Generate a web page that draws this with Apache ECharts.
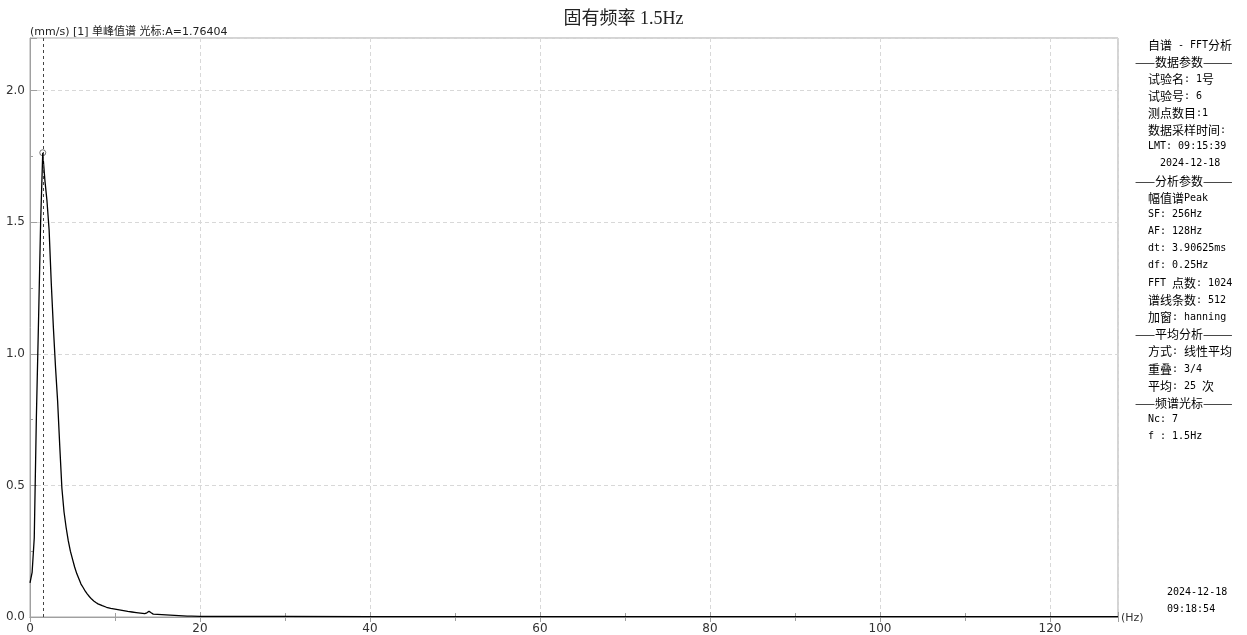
<!DOCTYPE html>
<html><head><meta charset="utf-8">
<script src="https://cdn.jsdelivr.net/npm/echarts@6/dist/echarts.min.js"></script>
<style>html,body{margin:0;padding:0;background:#fff}#c{width:1247px;height:635px}</style>
</head><body><div id="c"></div>
<script>
const titleText = '固有频率 1.5Hz';
const headerText = '(mm/s) [1] 单峰值谱 光标:A=1.76404';
const unitX = '(Hz)';
const freqs = [0,0.25,0.5,0.75,1,1.25,1.5,1.75,2,2.25,2.5,2.75,3,3.25,3.5,3.75,4,4.25,4.5,4.75,5,5.25,5.5,5.75,6,6.25,6.5,6.75,7,7.25,7.5,7.75,8,8.5,9,9.5,10,10.5,11,11.5,12,12.5,13,13.5,13.75,14,14.25,14.5,15,15.5,16,16.5,17,17.5,18,18.5,19,20,25,30,40,50,60,70,80,90,100,110,120,128];
const amps  = [0.13,0.17,0.30,0.76,1.12,1.50,1.76404,1.66,1.58,1.47,1.27,1.10,0.95,0.82,0.65,0.49,0.40,0.34,0.29,0.25,0.22,0.19,0.165,0.145,0.125,0.112,0.098,0.087,0.077,0.068,0.061,0.055,0.050,0.043,0.037,0.033,0.030,0.027,0.024,0.021,0.019,0.017,0.015,0.013,0.016,0.022,0.016,0.011,0.010,0.009,0.008,0.007,0.006,0.005,0.004,0.003,0.003,0.002,0.002,0.002,0.0018,0.0018,0.0017,0.0017,0.0016,0.0016,0.0015,0.0015,0.0015,0.0015];
const cursorFreq = 1.5;
const cursorAmp = 1.76404;
const panelLines = ['自谱 - FFT分析','——数据参数———','试验名: 1号','试验号: 6','测点数目:1','数据采样时间:','LMT: 09:15:39','  2024-12-18','——分析参数———','幅值谱Peak','SF: 256Hz','AF: 128Hz','dt: 3.90625ms','df: 0.25Hz','FFT 点数: 1024','谱线条数: 512','加窗: hanning','——平均分析———','方式: 线性平均','重叠: 3/4','平均: 25 次','——频谱光标———','Nc: 7','f : 1.5Hz'];
const footerLines = ['2024-12-18','09:18:54'];

function richify(s){
  let out='', cur='', mode=null;
  for(const ch of s){
    const m = ch.charCodeAt(0) < 128 ? 'a' : 'c';
    if(m!==mode){ if(cur) out += '{'+mode+'|'+cur+'}'; cur=''; mode=m; }
    cur += ch;
  }
  if(cur) out += '{'+mode+'|'+cur+'}';
  return out;
}
const rich = {
  a:{fontFamily:'DejaVu Sans Mono',fontSize:10,fill:'#000',height:14},
  c:{fontFamily:'Noto Sans CJK SC',fontSize:12,fill:'#000',height:14}
};
const graphics = [];
graphics.push({type:'text',left:'center',top:10,style:{text:titleText,font:'18px "Liberation Serif","Noto Sans CJK SC"',fill:'#222'}});
graphics.push({type:'text',left:30,top:27,style:{text:headerText,font:'11px "DejaVu Sans","Noto Sans CJK SC"',fill:'#222'}});
graphics.push({type:'text',left:1121,top:613,style:{text:unitX,font:'11px "DejaVu Sans"',fill:'#333'}});
panelLines.forEach((t,i)=>{
  const isSep = t.startsWith('——');
  graphics.push({type:'text',left:isSep?1135:1148,top:39+i*17.05,style:{text:richify(t),rich:rich}});
});
footerLines.forEach((t,i)=>{
  graphics.push({type:'text',left:1167,top:587+i*17,style:{text:t,font:'10px "DejaVu Sans Mono"',fill:'#000'}});
});

const chart = echarts.init(document.getElementById('c'));
chart.setOption({
  animation:false,
  backgroundColor:'#fff',
  grid:{left:30,right:129,top:38,bottom:15,show:true,borderColor:'#a8a8a8',borderWidth:1},
  xAxis:[{
    type:'value',min:0,max:128,interval:20,
    axisLine:{show:true,onZero:false,lineStyle:{color:'#a0a0a0'}},
    axisTick:{show:true,inside:true,length:5,lineStyle:{color:'#a0a0a0'}},
    minorTick:{show:true,splitNumber:2,length:4,lineStyle:{color:'#a0a0a0'}},
    axisLabel:{color:'#333',fontSize:12,fontFamily:'DejaVu Sans',margin:6,showMaxLabel:false},
    splitLine:{show:true,lineStyle:{color:'#d8d8d8',type:[4,3]}}
  },{
    type:'value',position:'top',min:0,max:128,interval:20,
    axisLine:{show:true,lineStyle:{color:'#a0a0a0'}},
    axisTick:{show:true,inside:true,length:5,lineStyle:{color:'#a0a0a0'}},
    minorTick:{show:true,splitNumber:2,length:4,lineStyle:{color:'#a0a0a0'}},
    axisLabel:{show:false},splitLine:{show:false}
  }],
  yAxis:{
    type:'value',min:0,max:2.2,interval:0.5,
    axisLine:{show:true,lineStyle:{color:'#a0a0a0'}},
    axisTick:{show:true,inside:true,length:7,lineStyle:{color:'#a0a0a0'}},
    minorTick:{show:true,splitNumber:2,length:3,lineStyle:{color:'#a0a0a0'}},
    axisLabel:{color:'#333',fontSize:12,fontFamily:'DejaVu Sans',margin:5,showMaxLabel:false,formatter:v=>v.toFixed(1)},
    splitLine:{show:true,lineStyle:{color:'#d8d8d8',type:[4,3]}}
  },
  series:[{
    type:'line',
    data:freqs.map((f,i)=>[f,amps[i]]),
    showSymbol:false,symbol:'none',
    lineStyle:{color:'#000',width:1.3},
    markLine:{silent:true,symbol:'none',label:{show:false},
      lineStyle:{color:'#444',type:[3,3],width:1},
      data:[{xAxis:cursorFreq}]}
  },{
    type:'scatter',
    data:[[cursorFreq,cursorAmp]],
    symbol:'circle',symbolSize:6,
    itemStyle:{color:'#fff',borderColor:'#555',borderWidth:1}
  }],
  graphic:graphics
});
</script></body></html>
